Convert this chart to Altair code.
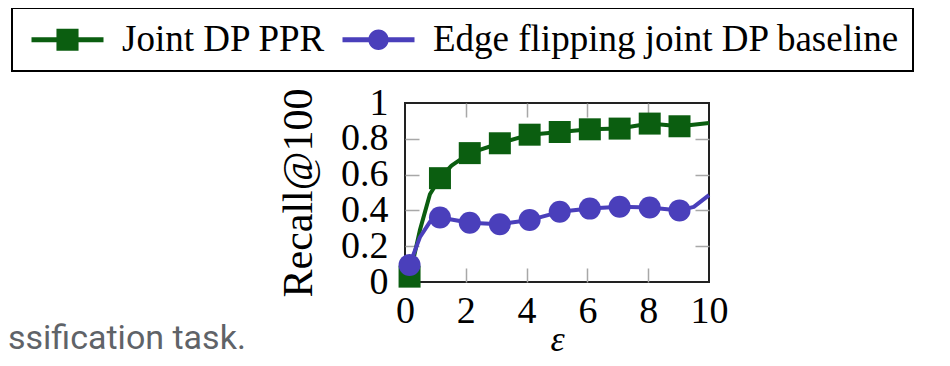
import altair as alt
import pandas as pd

S1 = "Joint DP PPR"
S2 = "Edge flipping joint DP baseline"
GREEN = "#0b5e10"
BLUE = "#4a3fbb"

# Joint DP PPR (line points; marker flag = 1 where a square marker is drawn)
eps_ppr = [0.15, 0.49, 0.82, 1.15, 1.53, 2.13, 3.12, 4.10, 5.09, 6.08, 7.06, 8.05, 9.03, 10.0]
rec_ppr = [0.03, 0.29, 0.49, 0.58, 0.65, 0.72, 0.775, 0.823, 0.838, 0.853, 0.857, 0.885, 0.87, 0.888]
mark_ppr = [1, 0, 0, 1, 0, 1, 1, 1, 1, 1, 1, 1, 1, 0]

# Edge flipping joint DP baseline
eps_base = [0.15, 0.49, 0.82, 1.15, 2.13, 3.12, 4.10, 5.09, 6.08, 7.06, 8.05, 9.03, 9.50, 10.0]
rec_base = [0.095, 0.25, 0.336, 0.36, 0.331, 0.323, 0.346, 0.392, 0.41, 0.42, 0.416, 0.40, 0.42, 0.485]
mark_base = [1, 0, 0, 1, 1, 1, 1, 1, 1, 1, 1, 1, 0, 0]

x_ticks = [0, 2, 4, 6, 8, 10]
y_ticks = [0, 0.2, 0.4, 0.6, 0.8, 1]

df1 = pd.DataFrame({"eps": eps_ppr, "recall": rec_ppr, "series": S1, "marker": mark_ppr})
df2 = pd.DataFrame({"eps": eps_base, "recall": rec_base, "series": S2, "marker": mark_base})
dfall = pd.concat([df1, df2], ignore_index=True)

SERIF = "Liberation Serif"

x_axis = alt.Axis(
    values=x_ticks, format=".2~f", title="ε",
    titleFont=SERIF, titleFontStyle="italic", titleFontSize=36, titleFontWeight="normal",
    titleColor="black", titleX=152, titleY=57, titleBaseline="middle", titleAlign="center",
    labelFont=SERIF, labelFontSize=38, labelColor="black", labelPadding=10,
    labelFlush=False, labelOverlap=False, labelAngle=0,
    ticks=False, tickSize=0, domain=False,
    grid=True, gridDash=[14, 151], gridWidth=1.5, gridOpacity=1,
    gridColor={"condition": {"test": "datum.value == 0 || datum.value == 10", "value": "transparent"},
               "value": "#a8a8a8"},
)
y_axis = alt.Axis(
    values=y_ticks, format=".2~f", title="Recall@100",
    titleFont=SERIF, titleFontSize=42, titleFontWeight="normal", titleColor="black",
    titleX=-107, titleY=89.5, titleAngle=270, titleBaseline="middle", titleAlign="center",
    labelFont=SERIF, labelFontSize=38, labelColor="black", labelPadding=17,
    labelFlush=False, labelOverlap=False,
    ticks=False, tickSize=0, domain=False,
    grid=True, gridDash=[14, 276], gridWidth=1.5, gridOpacity=1,
    gridColor={"condition": {"test": "datum.value == 0 || datum.value == 1", "value": "transparent"},
               "value": "#a8a8a8"},
)

X = alt.X("eps:Q", scale=alt.Scale(domain=[0, 10], nice=False, zero=False), axis=x_axis)
Y = alt.Y("recall:Q", scale=alt.Scale(domain=[0, 1], nice=False), axis=y_axis)

line1 = alt.Chart(df1).mark_line(color=GREEN, strokeWidth=4, strokeJoin="round").encode(x=X, y=Y)
pts1 = alt.Chart(df1).transform_filter("datum.marker == 1").mark_point(
    shape="square", filled=True, size=484, color=GREEN, opacity=1).encode(x=X, y=Y)
line2 = alt.Chart(df2).mark_line(color=BLUE, strokeWidth=4, strokeJoin="round").encode(x=X, y=Y)
pts2 = alt.Chart(df2).transform_filter("datum.marker == 1").mark_point(
    shape="circle", filled=True, size=484, color=BLUE, opacity=1).encode(x=X, y=Y)

SQ_PATH = "M-1,-0.2H5V0.2H-1Z M1.08,-0.92H2.92V0.92H1.08Z"
CI_PATH = "M-1,-0.2H5V0.2H-1Z M2.85,0A0.85,0.85 0 1,1 1.15,0A0.85,0.85 0 1,1 2.85,0Z"

leg = alt.Legend(
    orient="none", legendX=-393, legendY=-95, direction="horizontal", title=None,
    labelFont=SERIF, labelFontSize=37, labelColor="black", labelLimit=1000,
    symbolSize=576, symbolStrokeWidth=0, symbolOpacity=1, labelOffset=60,
    columnPadding=10, padding=13, strokeColor="black",
)

legend_layer = alt.Chart(dfall).transform_filter("datum.marker == 1").mark_point(
    filled=True, opacity=0).encode(
    x=X, y=Y,
    color=alt.Color("series:N", scale=alt.Scale(domain=[S1, S2], range=[GREEN, BLUE]), legend=leg),
    shape=alt.Shape("series:N", scale=alt.Scale(domain=[S1, S2], range=[SQ_PATH, CI_PATH]), legend=leg),
)

chart = alt.layer(line1, pts1, line2, pts2, legend_layer).properties(
    width=304, height=179,
    autosize=alt.AutoSizeParams(type="none"),
    padding={"left": 397, "top": 95, "right": 233, "bottom": 72},
    title=alt.TitleParams(
        text="ssification task.", orient="bottom", anchor="start", frame="group",
        dx=-397, dy=-12, baseline="alphabetic",
    ),
).configure(
    background="white", font=SERIF
).configure_view(stroke="#222222", strokeWidth=2).configure_legend(
    strokeWidth=2, labelFont=SERIF, labelFontSize=37, labelColor="black"
).configure_title(
    font="Roboto", fontSize=34, fontWeight="normal", color="#5f6368"
)

chart.save("out.html", embed_options={"renderer": "svg", "actions": False})
